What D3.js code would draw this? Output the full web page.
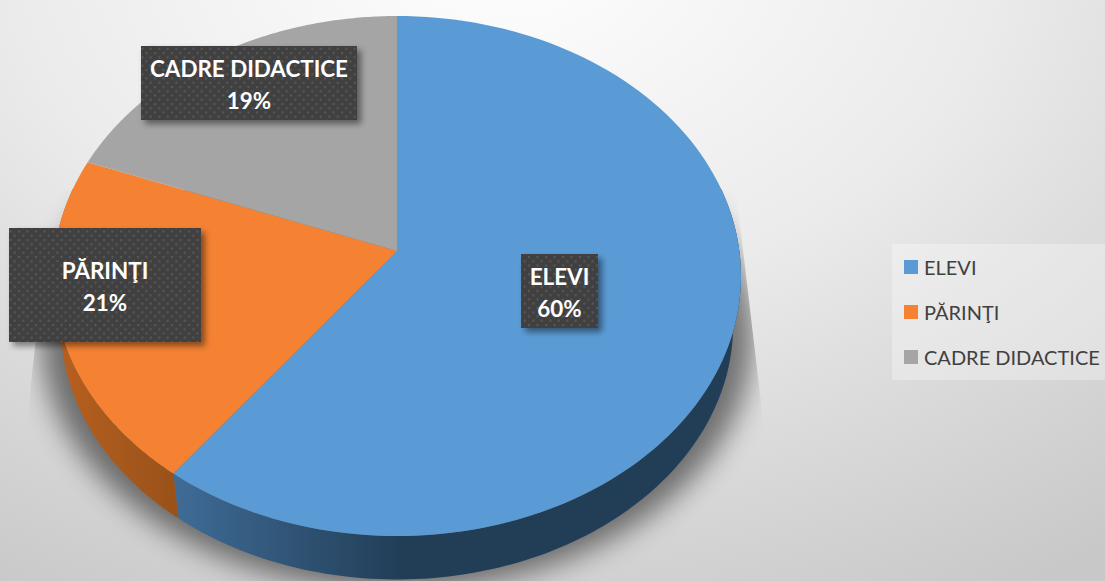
<!DOCTYPE html>
<html><head><meta charset="utf-8">
<script src="https://cdn.jsdelivr.net/npm/d3@7"></script>
<style>html,body{margin:0;padding:0;background:#fff;overflow:hidden}svg{display:block}</style>
</head><body><div id="c"></div>
<script>
const categories = ["ELEVI", "PĂRINŢI", "CADRE DIDACTICE"];
const values = [60.3, 20.5, 19.2];
const colors = ["#5B9BD5", "#F58233", "#A5A5A5"];
const wallLight = ["#3F6C97", "#B96120", "#777777"];
const wallDark = ["#223E57", "#9A5219", "#666666"];

const W = 1105, H = 581;
const svg = d3.select("#c").append("svg").attr("width", W).attr("height", H);
const defs = svg.append("defs");

const bg = defs.append("radialGradient").attr("id", "bg").attr("gradientUnits", "userSpaceOnUse")
  .attr("cx", 0).attr("cy", 0).attr("r", 1)
  .attr("gradientTransform", "translate(500,-60) scale(1035,748)");
[[0, "#ffffff"], [.48, "#ebebeb"], [.65, "#dfdfdf"], [1, "#c8c8c8"]].forEach(s =>
  bg.append("stop").attr("offset", s[0]).attr("stop-color", s[1]));
svg.append("rect").attr("width", W).attr("height", H).attr("fill", "url(#bg)");

// perspective projection of the tilted disc
const cx = 397, apexY = 251, k = 0.0962, a = 257.6, b = 342.4;
function project(t, wall) {
  const x = Math.sin(t), y = -Math.cos(t), d = 1 - k * y;
  const s = wall ? 0.977 : 1;
  return [cx + s * b * x / d, apexY + (wall ? 50 : 0) + s * a * y / d];
}
const pie = d3.pie().sort(null).value(d => d)(values);
const line = d3.line();
const arcAngles = (s, e) => d3.range(0, 121).map(i => s + (e - s) * i / 120);

// soft shadow, cut off by the sloped plane edges
defs.append("filter").attr("id", "blur").attr("x", "-20%").attr("y", "-20%").attr("width", "140%").attr("height", "140%")
  .append("feGaussianBlur").attr("stdDeviation", 14);
defs.append("clipPath").attr("id", "shClip").append("path")
  .attr("d", line([[736, 190], [766, 445], [766, 581], [27, 581], [27, 420], [38, 320], [38, 190]]) + "Z");
const sh = arcAngles(0, 2 * Math.PI).map(t => {
  const p = project(t, true);
  return [cx + (p[0] - cx) * 1.06, p[1] + 10];
});
svg.append("g").attr("clip-path", "url(#shClip)")
  .append("path").attr("d", line(sh) + "Z").attr("fill", "#000").attr("opacity", .5).attr("filter", "url(#blur)");

// side walls
pie.forEach((d, i) => {
  const s = d.startAngle, e = d.endAngle;
  const lo = Math.max(s, Math.PI / 2 - .25), hi = Math.min(e, 3 * Math.PI / 2 + .25);
  if (hi <= lo) return;
  const top = arcAngles(lo, hi).map(t => project(t, false));
  const bot = arcAngles(lo, hi).map(t => project(t, true)).reverse();
  const id = "w" + i;
  const g = defs.append("linearGradient").attr("id", id).attr("gradientUnits", "userSpaceOnUse")
    .attr("x1", 173).attr("x2", i === 0 ? 400 : 50).attr("y1", 0).attr("y2", 0);
  g.append("stop").attr("offset", 0).attr("stop-color", i === 0 ? wallLight[i] : wallDark[i]);
  g.append("stop").attr("offset", 1).attr("stop-color", i === 0 ? wallDark[i] : wallLight[i]);
  svg.append("path").attr("d", line(top.concat(bot)) + "Z").attr("fill", `url(#${id})`);
});

// top faces
pie.forEach((d, i) => {
  const pts = [[cx, apexY]].concat(arcAngles(d.startAngle, d.endAngle).map(t => project(t, false)));
  svg.append("path").attr("d", line(pts) + "Z").attr("fill", colors[i]);
});

// label pattern + shadow
const pat = defs.append("pattern").attr("id", "dots").attr("patternUnits", "userSpaceOnUse").attr("width", 8.5).attr("height", 8.5);
pat.append("rect").attr("width", 8.5).attr("height", 8.5).attr("fill", "#404040");
pat.append("rect").attr("x", 1).attr("y", 1).attr("width", 2).attr("height", 2).attr("fill", "#5a5a5a");
pat.append("rect").attr("x", 5.25).attr("y", 5.25).attr("width", 2).attr("height", 2).attr("fill", "#5a5a5a");
const ds = defs.append("filter").attr("id", "ds").attr("x", "-20%").attr("y", "-30%").attr("width", "140%").attr("height", "170%");
ds.append("feDropShadow").attr("dx", 4).attr("dy", 4).attr("stdDeviation", 3).attr("flood-color", "#000").attr("flood-opacity", .45);

const boxes = [
  {x: 521, y: 254, w: 77, h: 74},
  {x: 9, y: 228, w: 192, h: 114},
  {x: 141, y: 46, w: 216, h: 74}
];
const fmt = d3.format(".0%");
const FONT = "Lato, Carlito, sans-serif";
categories.forEach((c, i) => {
  const B = boxes[i];
  svg.append("rect").attr("x", B.x).attr("y", B.y).attr("width", B.w).attr("height", B.h)
    .attr("fill", "url(#dots)").attr("filter", "url(#ds)");
  const mx = B.x + B.w / 2, my = B.y + B.h / 2;
  svg.append("text").attr("x", mx).attr("y", my - 6).attr("text-anchor", "middle")
    .attr("font-family", FONT).attr("font-weight", 700).attr("font-size", 22.4).attr("fill", "#fff").text(c);
  svg.append("text").attr("x", mx).attr("y", my + 26).attr("text-anchor", "middle")
    .attr("font-family", FONT).attr("font-weight", 700).attr("font-size", 22.4).attr("fill", "#fff").text(fmt(values[i] / 100));
});

// legend
svg.append("rect").attr("x", 892).attr("y", 244).attr("width", 213).attr("height", 136).attr("fill", "#fff").attr("opacity", .3);
const ly = d3.scalePoint().domain(categories).range([267, 357]);
categories.forEach((c, i) => {
  svg.append("rect").attr("x", 904).attr("y", ly(c) - 7).attr("width", 14).attr("height", 14).attr("fill", colors[i]);
  svg.append("text").attr("x", 924).attr("y", ly(c) + 8).attr("font-family", FONT).attr("font-size", 20).attr("fill", "#404040").text(c);
});
</script></body></html>
